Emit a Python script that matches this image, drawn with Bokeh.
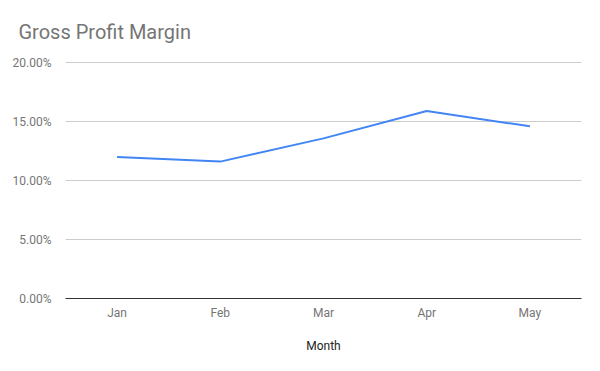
from bokeh.plotting import figure
from bokeh.models import FixedTicker, NumeralTickFormatter, Range1d
from bokeh.embed import file_html
from bokeh.resources import INLINE

months = ["Jan", "Feb", "Mar", "Apr", "May"]
margin = [0.1200, 0.1161, 0.1358, 0.1590, 0.1460]
y_ticks = [0.0, 0.05, 0.10, 0.15, 0.20]

FONT = "Roboto"

p = figure(x_range=months, y_range=Range1d(0, 0.201), width=592, height=363,
           output_backend="svg", toolbar_location=None,
           min_border_left=65, min_border_right=11, min_border_top=61, min_border_bottom=65)

p.line(months, margin, line_color="#4285F4", line_width=2)

p.title.text = "Gross Profit Margin"
p.title.text_font = FONT
p.title.text_font_size = "20px"
p.title.text_font_style = "normal"
p.title.text_color = "#757575"
p.title.align = "left"
p.title.offset = -47
p.title.standoff = 35

p.outline_line_color = None
p.background_fill_color = "white"
p.border_fill_color = "white"

p.xgrid.grid_line_color = None
p.ygrid.grid_line_color = "#cccccc"
p.ygrid.grid_line_width = 1

p.yaxis.ticker = FixedTicker(ticks=y_ticks)
p.yaxis.formatter = NumeralTickFormatter(format="0.00%")
p.yaxis.axis_line_color = None
p.yaxis.major_tick_line_color = None
p.yaxis.minor_tick_line_color = None
p.yaxis.major_label_standoff = 8
p.yaxis.major_label_text_font = FONT
p.yaxis.major_label_text_font_size = "12px"
p.yaxis.major_label_text_color = "#757575"

p.xaxis.axis_line_color = "#333333"
p.xaxis.axis_line_width = 1
p.xaxis.major_tick_line_color = None
p.xaxis.minor_tick_line_color = None
p.xaxis.major_label_standoff = 1
p.xaxis.major_label_text_font = FONT
p.xaxis.major_label_text_font_size = "12px"
p.xaxis.major_label_text_color = "#757575"
p.xaxis.axis_label = "Month"
p.xaxis.axis_label_text_font = FONT
p.xaxis.axis_label_text_font_size = "12px"
p.xaxis.axis_label_text_font_style = "normal"
p.xaxis.axis_label_text_color = "#222222"
p.xaxis.axis_label_standoff = 16

open("out.html", "w").write(file_html(p, INLINE))
